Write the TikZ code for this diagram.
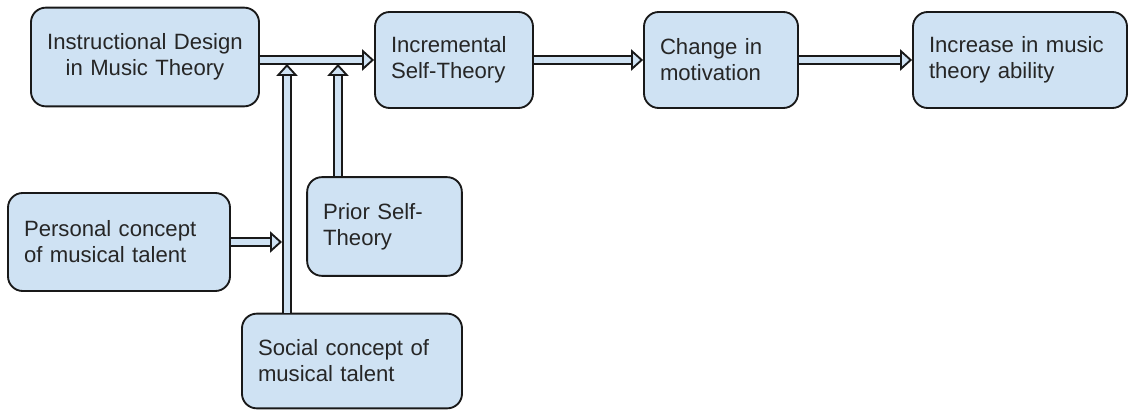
\documentclass[tikz,border=0pt]{standalone}
\usepackage{fontspec}
\setmainfont{Liberation Sans}
\usetikzlibrary{arrows.meta}

\definecolor{boxblue}{HTML}{CFE2F3}

\begin{document}
\begin{tikzpicture}[x=0.75pt,y=-0.75pt,
    box/.style={draw=black!90,line width=1.4pt,fill=boxblue,rounded corners=11pt,
      inner xsep=12pt,inner ysep=0pt,align=left,text=black!85,
      font=\fontsize{16.6}{19.5}\selectfont},
    flow/.style={draw=black!90,line width=1.4pt,double=boxblue,double distance=4pt,
      -{Triangle[open,fill=boxblue,length=9pt,width=16pt,line width=1.4pt]}}]
  % keep the page the size of the reference
  \useasboundingbox (0,0) rectangle (1129,410);

  % top row
  \node[box,text width=147pt,align=center,minimum height=74pt] (design) at (145,57)
    {Instructional Design\\in Music Theory};
  \node[box,text width=94.5pt,minimum height=72pt] (incr) at (454,60)
    {Incremental\\Self-Theory};
  \node[box,text width=91.5pt,minimum height=72pt] (change) at (721,60)
    {Change in\\motivation};
  \node[box,text width=136.5pt,minimum height=72pt] (ability) at (1020,60)
    {Increase in music\\theory ability};

  % lower boxes
  \node[box,text width=142.5pt,minimum height=73.5pt] (personal) at (119,242)
    {Personal concept\\of musical talent};
  \node[box,text width=92pt,minimum height=74pt] (prior) at (384.5,226.5)
    {Prior Self-\\Theory};
  \node[box,text width=141pt,minimum height=71pt] (social) at (352,361)
    {Social concept of\\musical talent};

  % where the side arrows meet
  \coordinate (joinA) at (287,64);
  \coordinate (joinB) at (338,64);
  \coordinate (joinC) at (282,242);

  \draw[flow] (design.east |- incr.west) -- (incr.west);
  \draw[flow] (incr.east) -- (change.west);
  \draw[flow] (change.east) -- (ability.west);

  \draw[flow] (joinA |- social.north) -- (joinA);
  \draw[flow] (joinB |- prior.north) -- (joinB);
  \draw[flow] (personal.east) -- (joinC);

\end{tikzpicture}
\end{document}
